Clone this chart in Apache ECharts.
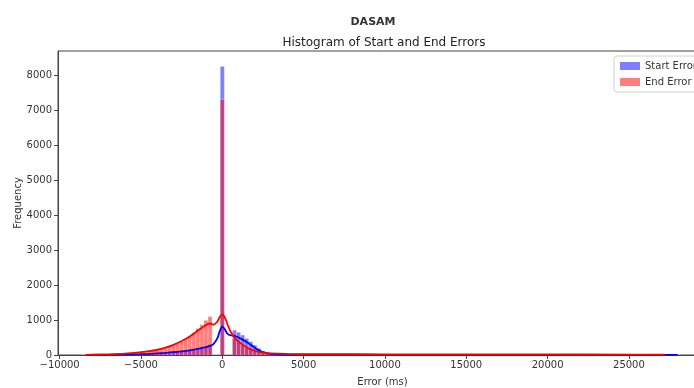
<!DOCTYPE html>
<html>
<head>
<meta charset="utf-8">
<script src="https://cdn.jsdelivr.net/npm/echarts@6/dist/echarts.min.js"></script>
<style>
  html, body { margin: 0; padding: 0; background: #fff; }
  #chart { width: 694px; height: 388px; }
</style>
</head>
<body>
<div id="chart"></div>
<script>
// histogram bins (250 ms wide, centred on multiples of 250)
const BIN_START = -8625;
const BIN_WIDTH = 250;
const startErrCounts = [
  2, 2, 3, 3, 4, 4, 5, 6, 7, 8,
  10, 12, 14, 17, 20, 24, 28, 33, 38, 44,
  52, 60, 70, 82, 95, 110, 128, 148, 170, 200,
  240, 300, 0, 0, 8250, 0, 0, 710, 650, 570,
  470, 380, 280, 190, 110, 60, 30, 18, 12, 9, 7
];
const endErrCounts = [
  8, 10, 12, 14, 16, 18, 22, 26, 30, 35,
  42, 50, 58, 68, 80, 92, 108, 125, 145, 170,
  200, 235, 275, 330, 390, 460, 540, 640, 760, 870,
  990, 1100, 0, 0, 7300, 0, 0, 470, 380, 290,
  210, 150, 110, 80, 60, 48, 40, 34, 30, 27, 25
];
// long right tail, coarser bins
const TAIL_START = 4125;
const TAIL_WIDTH = 1000;
const startTail = [6, 5, 5, 4, 4, 4, 4, 3, 3, 3, 3, 3, 3, 3, 3, 3, 3, 3, 3, 3, 3, 3, 4, 6];
const endTail = [22, 20, 19, 18, 18, 17, 17, 16, 16, 15, 15, 15, 14, 14, 13, 13, 12, 12, 11, 11, 10, 10, 8, 0];

// kde curves
const kdeX = [-8400, -7000, -6000, -5000, -4500, -4000, -3500, -3000, -2500, -2000,
  -1500, -1000, -750, -550, -300, -150, 0, 150, 300, 500,
  750, 1000, 1250, 1500, 1750, 2000, 2250, 2500, 3000, 4000,
  6000, 10000, 15000, 20000, 25000, 27200, 28000];
const startKde = [3, 6, 12, 25, 35, 48, 62, 80, 105, 135,
  175, 225, 260, 310, 480, 690, 810, 740, 620, 565,
  545, 500, 440, 370, 290, 210, 140, 85, 32, 12,
  8, 6, 5, 5, 5, 5, 4];
const endKde = [6, 20, 40, 82, 110, 150, 210, 290, 400, 530,
  700, 860, 900, 870, 960, 1090, 1160, 1080, 900, 680,
  500, 380, 290, 220, 160, 120, 90, 70, 48, 32,
  24, 20, 18, 16, 13, 8, null];

const xTicks = [-10000, -5000, 0, 5000, 10000, 15000, 20000, 25000];
const yTicks = [0, 1000, 2000, 3000, 4000, 5000, 6000, 7000, 8000];

function toBins(counts, start, width) {
  return counts.map((c, i) => [start + i * width, start + (i + 1) * width, c]);
}
const startBins = toBins(startErrCounts, BIN_START, BIN_WIDTH).concat(toBins(startTail, TAIL_START, TAIL_WIDTH));
const endBins = toBins(endErrCounts, BIN_START, BIN_WIDTH).concat(toBins(endTail, TAIL_START, TAIL_WIDTH));

function renderBin(params, api) {
  const p0 = api.coord([api.value(0), api.value(2)]);
  const p1 = api.coord([api.value(1), 0]);
  return {
    type: 'rect',
    shape: { x: p0[0], y: p0[1], width: p1[0] - p0[0], height: p1[1] - p0[1] },
    style: { fill: api.visual('color'), stroke: 'rgba(255,255,255,0.45)', lineWidth: 0.5 }
  };
}

const FONT = 'DejaVu Sans';
const plain = v => String(v).replace('-', '\u2212');

const chart = echarts.init(document.getElementById('chart'), null, { renderer: 'canvas' });

const option = {
  animation: false,
  textStyle: { fontFamily: FONT },
  title: [
    {
      text: 'DASAM', left: 368, top: 12, textAlign: 'center',
      textStyle: { fontFamily: FONT, fontSize: 11, fontWeight: 600, color: '#333' }
    },
    {
      text: 'Histogram of Start and End Errors', left: 379, top: 32, textAlign: 'center',
      textStyle: { fontFamily: FONT, fontSize: 12, fontWeight: 'normal', color: '#222' }
    }
  ],
  legend: {
    data: ['Start Error', 'End Error'],
    orient: 'vertical',
    left: 614, top: 56,
    padding: [5, 6, 5, 6],
    itemWidth: 20, itemHeight: 8, itemGap: 6,
    icon: 'rect',
    backgroundColor: 'rgba(255,255,255,0.9)',
    borderColor: '#d0d0d0', borderWidth: 1, borderRadius: 3,
    textStyle: { fontFamily: FONT, fontSize: 10, color: '#333' }
  },
  grid: {
    left: 58, right: -13, top: 51, bottom: 33,
    outerBoundsMode: 'none', containLabel: false,
    show: true, borderColor: '#444', borderWidth: 1
  },
  xAxis: {
    type: 'value', min: -10100, max: 29800,
    name: 'Error (ms)', nameLocation: 'middle', nameGap: 22, nameMoveOverlap: false,
    nameTextStyle: { fontFamily: FONT, fontSize: 10, color: '#333' },
    axisLine: { onZero: false, lineStyle: { color: '#444' } },
    axisTick: { customValues: xTicks, length: 4, lineStyle: { color: '#444' } },
    axisLabel: { customValues: xTicks, fontSize: 10, color: '#333', margin: 5, formatter: plain },
    splitLine: { show: false }
  },
  yAxis: {
    type: 'value', min: 0, max: 8690,
    name: 'Frequency', nameLocation: 'middle', nameGap: 35, nameMoveOverlap: false,
    nameTextStyle: { fontFamily: FONT, fontSize: 10, color: '#333' },
    axisLine: { show: true, onZero: false, lineStyle: { color: '#444' } },
    axisTick: { show: true, customValues: yTicks, length: 4, lineStyle: { color: '#444' } },
    axisLabel: { customValues: yTicks, fontSize: 10, color: '#333', margin: 6, formatter: plain },
    splitLine: { show: false }
  },
  series: [
    {
      name: 'Start Error', type: 'custom', renderItem: renderBin, clip: true,
      encode: { x: [0, 1], y: 2 },
      itemStyle: { color: 'rgba(0,0,255,0.5)' },
      data: startBins
    },
    {
      name: 'Start Error KDE', type: 'line', smooth: 0.35, showSymbol: false,
      lineStyle: { color: '#0000ff', width: 1.8 },
      data: kdeX.map((x, i) => [x, startKde[i]])
    },
    {
      name: 'End Error', type: 'custom', renderItem: renderBin, clip: true,
      encode: { x: [0, 1], y: 2 },
      itemStyle: { color: 'rgba(255,0,0,0.5)' },
      data: endBins
    },
    {
      name: 'End Error KDE', type: 'line', smooth: 0.35, showSymbol: false,
      lineStyle: { color: '#ff0000', width: 1.8 },
      data: kdeX.map((x, i) => [x, endKde[i] == null ? '-' : endKde[i]])
    }
  ]
};

chart.setOption(option);
</script>
</body>
</html>
